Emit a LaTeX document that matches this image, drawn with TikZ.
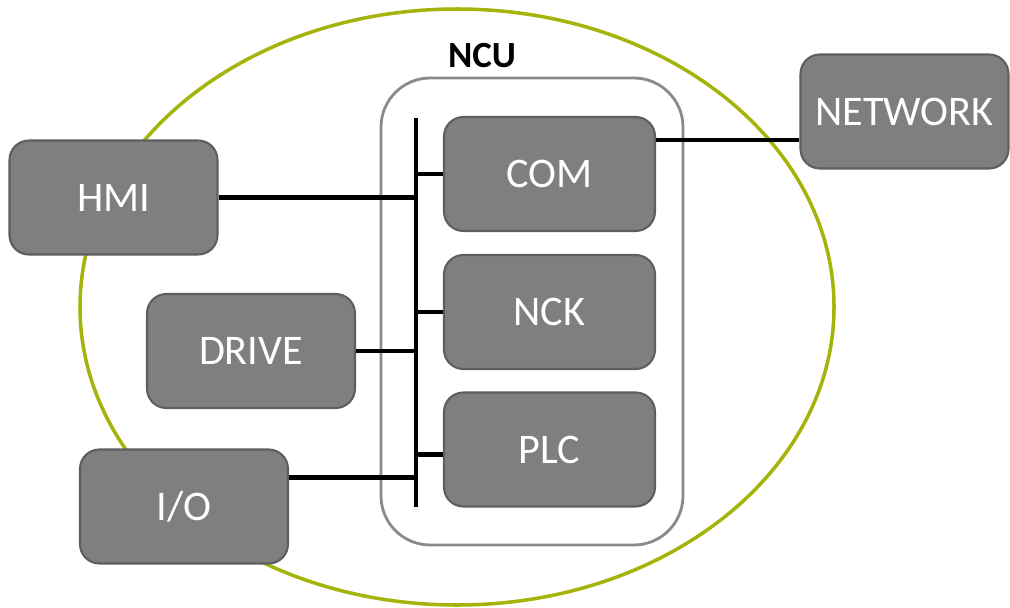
\documentclass[tikz,border=0pt]{standalone}
\usepackage{fontspec}
\setmainfont{Carlito}
\usetikzlibrary{calc}
\definecolor{olive}{HTML}{A5B40A}
\definecolor{unitgray}{HTML}{7F7F7F}
\definecolor{unitedge}{HTML}{5E5E5E}
\definecolor{ncugray}{HTML}{8A8A8A}
\tikzset{
  unit/.style={draw=unitedge, line width=1.2pt, fill=unitgray, rounded corners=11pt,
    minimum width=4.16cm, minimum height=2.28cm, text=white,
    font=\fontsize{24}{28}\selectfont},
  inner unit/.style={unit, minimum width=4.22cm},
  link/.style={black, line width=2.3pt}
}
\begin{document}
\begin{tikzpicture}[x=0.02cm,y=-0.02cm]
\useasboundingbox (0,0) rectangle (1010,608);
% outer ellipse
\draw[olive, line width=2pt] (457,307) ellipse [x radius=377, y radius=298];
% NCU
\draw[ncugray, line width=1.6pt, rounded corners=28pt] (381,78) rectangle (683,545);
\node[font=\fontsize{21}{24}\selectfont\bfseries] (ncu) at (482,56) {NCU};
\node[inner unit] (com) at (549.5,174) {COM};
\node[inner unit] (nck) at (549.5,312) {NCK};
\node[inner unit] (plc) at (549.5,449.5) {PLC};
% outside units
\node[unit] (hmi) at (113.5,197.5) {HMI};
\node[unit] (drive) at (251,351) {DRIVE};
\node[unit] (io) at (184,506.5) {I/O};
\node[unit] (network) at (904.5,111.5) {NETWORK};
% bus
\coordinate (bustop) at (416,118);
\coordinate (busbot) at (416,507);
\draw[link] (bustop) -- (busbot);
\draw[link] (com.west) -- (com.west -| bustop);
\draw[link] (nck.west) -- (nck.west -| bustop);
\draw[link] ([yshift=-5*0.02cm]plc.west) -- ([yshift=-5*0.02cm]plc.west -| bustop);
\draw[link] (hmi.east) -- (hmi.east -| bustop);
\draw[link] (drive.east) -- (drive.east -| bustop);
\coordinate (iolink) at ($(io.east)+(0,-29)$);
\draw[link] (iolink) -- (iolink -| bustop);
\coordinate (comlink) at ($(com.north east)+(0,24)$);
\draw[link] (comlink) -- (comlink -| network.west);
\end{tikzpicture}
\end{document}
